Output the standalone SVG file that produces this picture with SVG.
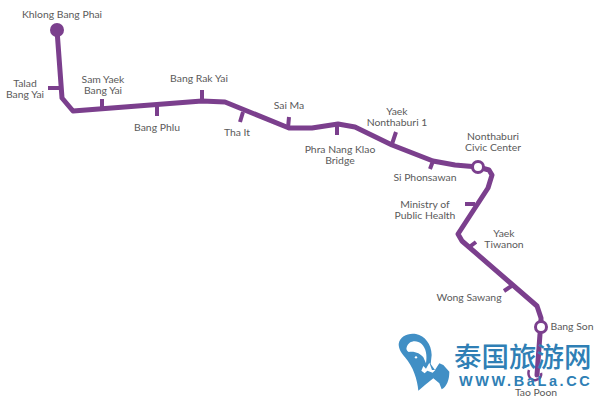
<svg xmlns="http://www.w3.org/2000/svg" width="600" height="400" viewBox="0 0 600 400">
<style>
.l{fill:none;stroke:#7b3f8d;stroke-width:5;stroke-linejoin:round;stroke-linecap:round}
.t{fill:none;stroke:#7b3f8d;stroke-width:4}
.s{fill:#fff;stroke:#7b3f8d;stroke-width:3}
text{font-family:"Lato","Liberation Sans",sans-serif;font-size:10.4px;fill:#5a5a5a;text-anchor:middle}
.w{font-family:"Noto Sans CJK SC",sans-serif;font-size:27.5px;font-weight:500;fill:#2f7fb5;text-anchor:start}
.u{font-family:"Liberation Sans",sans-serif;font-size:14.5px;font-weight:700;fill:#2f7fb5;text-anchor:start;letter-spacing:2.6px}
</style>
<rect width="600" height="400" fill="#fff"/>
<g id="connectors">
<path class="l" d="M57 30L62 98L73 111L202 101L225 102L289 128L312 128L338 124L355 127L392 145L433 161L455 165L478 167L489 170L492 175L488 188L458 234L462 241L537 306L541 318L541 327"/>
<path class="l" d="M540 334L537 375"/>
<path class="t" d="M48 88H61M102 99V110M157 105V116M202 90V101M243 112L240 122M289 117L288 128M337 124V135M396 132L392 144M433 161L430 169M465 204H475M476 242L468 248M513 285L504 291"/>
</g>
<g id="s1"><circle cx="57" cy="30" r="7" fill="#7b3f8d"/><text x="62" y="18">Khlong Bang Phai</text></g>
<g id="s2"><text x="25" y="87">Talad</text><text x="25" y="98">Bang Yai</text></g>
<g id="s3"><text x="103" y="83">Sam Yaek</text><text x="103" y="94">Bang Yai</text></g>
<g id="s4"><text x="157" y="131">Bang Phlu</text></g>
<g id="s5"><text x="199" y="82">Bang Rak Yai</text></g>
<g id="s6"><text x="237" y="136">Tha It</text></g>
<g id="s7"><text x="289" y="109">Sai Ma</text></g>
<g id="s8"><text x="340" y="153">Phra Nang Klao</text><text x="340" y="164">Bridge</text></g>
<g id="s9"><text x="397" y="115">Yaek</text><text x="397" y="126">Nonthaburi 1</text></g>
<g id="s10"><circle class="s" cx="478" cy="167" r="5.5"/><text x="493" y="140">Nonthaburi</text><text x="493" y="151">Civic Center</text></g>
<g id="s11"><text x="425" y="181">Si Phonsawan</text></g>
<g id="s12"><text x="425" y="208">Ministry of</text><text x="425" y="219">Public Health</text></g>
<g id="s13"><text x="504" y="237">Yaek</text><text x="504" y="248">Tiwanon</text></g>
<g id="s14"><text x="469" y="301">Wong Sawang</text></g>
<g id="s15"><circle class="s" cx="541" cy="327" r="5.5"/><text x="572" y="330">Bang Son</text></g>
<g id="s16"><path d="M529 370C527 376 531 381 536 380C540 379 542 376 541 373" fill="none" stroke="#7b3f8d" stroke-width="2.5"/><text x="536" y="396">Tao Poon</text></g>
<g id="watermark">
<g transform="translate(390 320) scale(.3333)">
<path d="M26 72C30 48 55 38 78 42C105 48 124 72 125 105L122 132L135 150L148 130L160 135L178 155C178 180 170 200 155 208L148 190L130 175L105 195L85 212C82 180 70 140 45 112C35 100 26 88 26 72Z" fill="#418fc5"/>
<path d="M50 82C55 62 80 58 95 72C108 85 112 105 108 130L100 112C92 100 72 92 56 96C50 92 48 88 50 82Z" fill="#fff"/>
<path d="M94 152L100 138L108 146L118 128L126 150L136 150L128 158L112 152L104 160Z" fill="#fff"/>
<circle cx="78" cy="112" r="3.5" fill="#fff"/>
</g>
<text class="w" x="454" y="367">泰国旅游网</text>
<text class="u" x="459" y="386">WWW.BaLa.CC</text>
</g>
</svg>
